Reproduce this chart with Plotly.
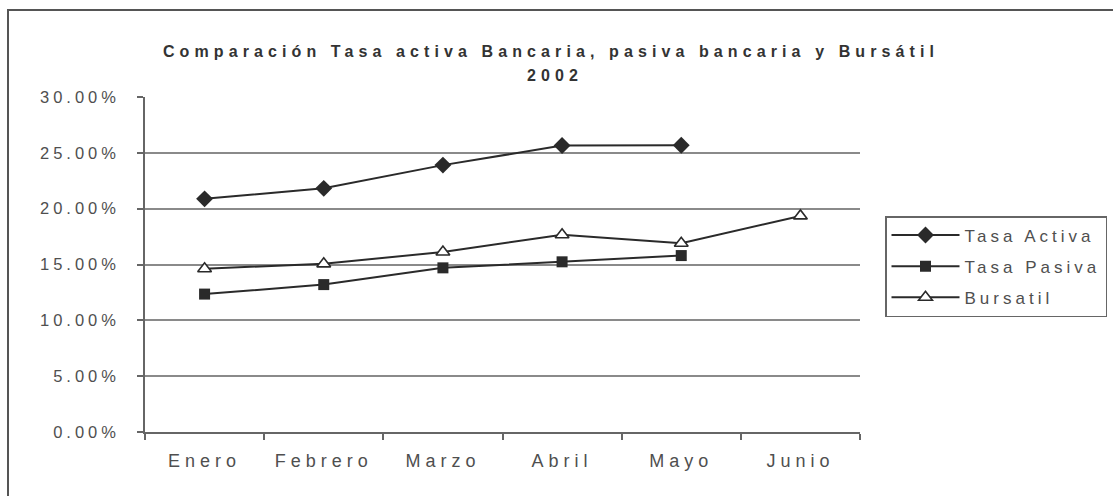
import plotly.graph_objects as go

MESES = ["Enero", "Febrero", "Marzo", "Abril", "Mayo", "Junio"]
TASA_ACTIVA = [0.2088, 0.2182, 0.2390, 0.2565, 0.2568, None]
TASA_PASIVA = [0.1235, 0.1320, 0.1470, 0.1524, 0.1580, None]
BURSATIL = [0.1462, 0.1506, 0.1612, 0.1766, 0.1690, 0.1935]
Y_TICKS = [0.0, 0.05, 0.10, 0.15, 0.20, 0.25, 0.30]
Y_GRID = [0.05, 0.10, 0.15, 0.20, 0.25]

TITULO_1 = "Comparación Tasa activa Bancaria, pasiva bancaria y Bursátil"
TITULO_2 = "2002"

FONT = "Liberation Sans, Arial, sans-serif"
LINE_C = "#2a2a2a"
TEXT_C = "#4f4f4f"


def spaced(t, s):
    return f'<span style="letter-spacing:{s}px">{t}</span>'


W, H = 1113, 496
ML, MR, MT, MB = 145, 253, 97, 64
PW, PH = W - ML - MR, H - MT - MB

fig = go.Figure()
fig.add_trace(go.Scatter(
    x=MESES, y=TASA_ACTIVA, name=spaced("Tasa Activa", 4.0), mode="lines+markers",
    legendgroup="a",
    line=dict(color=LINE_C, width=2),
    marker=dict(symbol="diamond", size=13, color=LINE_C),
))
fig.add_trace(go.Scatter(
    x=MESES, y=TASA_PASIVA, name=spaced("Tasa Pasiva", 4.0), mode="lines+markers",
    legendgroup="p",
    line=dict(color=LINE_C, width=2),
    marker=dict(symbol="square", size=11, color=LINE_C),
))
fig.add_trace(go.Scatter(
    x=MESES, y=BURSATIL, name=spaced("Bursatil", 4.0), mode="lines+markers",
    legendgroup="b",
    line=dict(color=LINE_C, width=2),
    marker=dict(symbol="triangle-up", size=12, color="white",
                line=dict(color=LINE_C, width=1.6)),
))

fig.update_layout(
    width=W, height=H,
    margin=dict(l=ML, r=MR, t=MT, b=MB, pad=0, autoexpand=False),
    paper_bgcolor="white", plot_bgcolor="white",
    font=dict(family=FONT, color=TEXT_C, size=14),
    title=dict(
        text=spaced(TITULO_1, 5.1),
        font=dict(family=FONT, size=16, color="#333333", weight="bold"),
        x=551 / W, xref="container", xanchor="center",
        y=1 - 51 / H, yref="container", yanchor="middle",
    ),
    annotations=[dict(
        text=spaced(TITULO_2, 5.1), showarrow=False,
        font=dict(family=FONT, size=16, color="#333333", weight="bold"),
        xref="paper", yref="paper",
        x=(555 - ML) / PW, y=(H - MB - 75) / PH,
        xanchor="center", yanchor="middle",
    )],
    showlegend=True,
    legend=dict(
        xref="container", yref="container",
        x=885 / W, xanchor="left",
        y=1 - 216 / H, yanchor="top",
        bordercolor="#666666", borderwidth=1.5,
        bgcolor="white",
        font=dict(family=FONT, size=17, color=TEXT_C),
        itemwidth=68, tracegroupgap=6,
    ),
    xaxis=dict(
        type="category", range=[-0.5, 5.5],
        tickson="boundaries", ticks="outside", ticklen=6, tickwidth=1.5, tickcolor="#666666",
        tickmode="array", tickvals=MESES, ticktext=[spaced(m, 5) for m in MESES],
        tickfont=dict(family=FONT, size=18, color=TEXT_C),
        ticklabelstandoff=12,
        showline=True, linecolor="#666666", linewidth=1.5,
        showgrid=False, zeroline=False, fixedrange=True,
    ),
    yaxis=dict(
        range=[0, 0.30],
        tickmode="array", tickvals=Y_TICKS,
        ticktext=[spaced(f"{v*100:.2f}%", 4) for v in Y_TICKS],
        tickfont=dict(family=FONT, size=16.5, color=TEXT_C),
        ticks="outside", ticklen=6, tickwidth=1.5, tickcolor="#666666",
        ticklabelstandoff=14,
        showline=True, linecolor="#666666", linewidth=1.5,
        showgrid=False, zeroline=False, fixedrange=True,
        minor=dict(tickmode="array", tickvals=Y_GRID, showgrid=True,
                   gridcolor="#8a8a8a", gridwidth=1.6, ticks=""),
    ),
    shapes=[dict(
        type="rect", xref="paper", yref="paper",
        x0=(8 - ML) / PW, x1=(W + 20 - ML) / PW,
        y0=(H - MB - (H + 20)) / PH, y1=(H - MB - 10) / PH,
        line=dict(color="#555555", width=2), fillcolor="rgba(0,0,0,0)", layer="below",
    )],
)

fig.write_html("out.html", config={"displayModeBar": False},
               post_script="document.body.style.margin='0';")
